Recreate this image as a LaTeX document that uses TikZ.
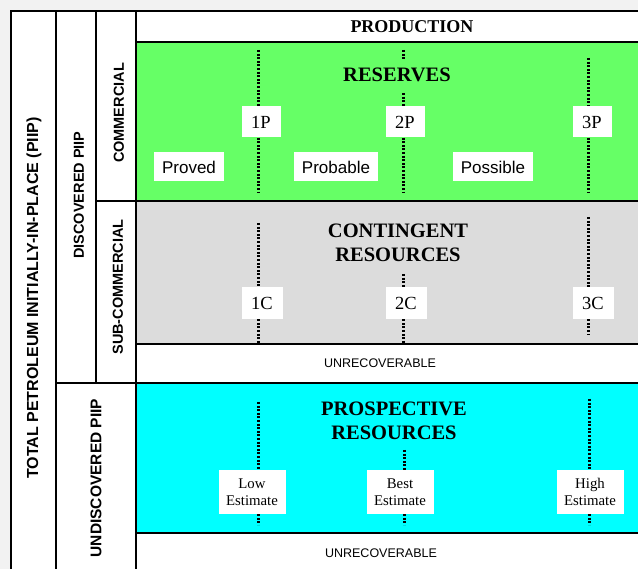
\documentclass[tikz,border=0pt]{standalone}
\usepackage{fontspec}
\setmainfont{Liberation Serif}
\newfontfamily\arialfont{Liberation Sans}
\usetikzlibrary{positioning}
\definecolor{resgreen}{HTML}{66FF66}
\definecolor{contgray}{HTML}{DCDCDC}
\definecolor{prospcyan}{HTML}{00FFFF}

\begin{document}
\begin{tikzpicture}[
  x=1pt, y=-1pt, line join=miter,
  frame/.style   ={black, line width=2.4pt},
  sidetxt/.style ={rotate=90, inner sep=0pt, font=\arialfont\bfseries\fontsize{14.5}{16}\selectfont},
  classtxt/.style={align=center, inner sep=0pt, font=\bfseries\fontsize{20.5}{24}\selectfont},
  catbox/.style  ={fill=white, inner sep=0pt, minimum width=39pt, minimum height=31pt, font=\fontsize{18.5}{20}\selectfont},
  estbox/.style  ={fill=white, inner sep=0pt, align=center, minimum width=67pt, minimum height=44pt, font=\fontsize{14.8}{17}\selectfont},
  uncbox/.style  ={fill=white, inner xsep=8pt, inner ysep=0pt, minimum height=29pt, font=\arialfont\fontsize{17}{20}\selectfont},
  unrectxt/.style={inner sep=0pt, font=\arialfont\fontsize{12.5}{14}\selectfont},
  dotline/.style ={black, line width=3pt, line cap=butt, dash pattern=on 2pt off 1.6pt}
]

% --- grid (pixel units, y downwards)
\def\xL{11}   % outer frame
\def\xA{56}   % total | discovered
\def\xB{96}   % discovered | commercial
\def\xC{136}  % start of resource area
\def\xR{638}  % right edge (cut)
\def\yT{11}   % top frame
\def\yP{42}   % production | reserves
\def\yR{201}  % reserves | contingent
\def\yU{344}  % contingent | unrecoverable
\def\yD{383}  % discovered | undiscovered
\def\yQ{533}  % prospective | unrecoverable
\def\yB{575}  % bottom (cut)

\useasboundingbox (0,0) rectangle (638,569);

% --- background with shadow margin
\fill[black!5] (0,0) rectangle (638,569);
\fill[white] (\xL,\yT) rectangle (\xR,\yB);

% --- coloured bands
\fill[resgreen]  (\xC,\yP) rectangle (\xR,\yR);
\fill[contgray]  (\xC,\yR) rectangle (\xR,\yU);
\fill[prospcyan] (\xC,\yD) rectangle (\xR,\yQ);

% --- frame lines
\draw[frame] (\xR,\yT) -- (\xL,\yT) -- (\xL,\yB);
\draw[frame] (\xA,\yT) -- (\xA,\yB);
\draw[frame] (\xB,\yT) -- (\xB,\yD);
\draw[frame] (\xC,\yT) -- (\xC,\yB);
\draw[frame] (\xC,\yP) -- (\xR,\yP);
\draw[frame] (\xB,\yR) -- (\xR,\yR);
\draw[frame] (\xC,\yU) -- (\xR,\yU);
\draw[frame] (\xA,\yD) -- (\xR,\yD);
\draw[frame] (\xC,\yQ) -- (\xR,\yQ);

% --- side labels
\node[sidetxt, font=\arialfont\bfseries\fontsize{16}{18}\selectfont] (total) at (34,298) {TOTAL PETROLEUM INITIALLY-IN-PLACE (PIIP)};
\node[sidetxt] (disc)   at (79,195)  {DISCOVERED PIIP};
\node[sidetxt] (comm)   at (119,113) {COMMERCIAL};
\node[sidetxt] (subc)   at (118,287) {SUB-COMMERCIAL};
\node[sidetxt, font=\arialfont\bfseries\fontsize{15.5}{17}\selectfont] (undisc) at (96,478) {UNDISCOVERED PIIP};

% --- class titles
\node[classtxt, font=\bfseries\fontsize{18}{20}\selectfont] (prod) at (412,27) {PRODUCTION};
\node[classtxt] (res)   at (397,75)  {RESERVES};
\node[classtxt] (cont)  at (398,243) {CONTINGENT\\RESOURCES};
\node[classtxt] (prosp) at (394,421) {PROSPECTIVE\\RESOURCES};
\node[unrectxt] (unrA)  at (380,363) {UNRECOVERABLE};
\node[unrectxt] (unrB)  at (381,553) {UNRECOVERABLE};

% --- reserves: 1P 2P 3P
\foreach \n/\xl/\xb/\yt in {1/258/261/50, 2/403/405/93, 3/588/592/58}{
  \node[catbox] (p\n) at (\xb,122) {\n P};
  \coordinate (ptop\n) at (\xl,\yt);
  \coordinate (pbot\n) at (\xl,192);
  \draw[dotline] (ptop\n) -- (ptop\n |- p\n.north);
  \draw[dotline] (ptop\n |- p\n.south) -- (pbot\n);
}
\coordinate (pstubA) at (403,50);
\coordinate (pstubB) at (403,59);
\draw[dotline] (pstubA) -- (pstubB);

\node[uncbox] (proved)   at (189,167) {Proved};
\node[uncbox] (probable) at (336,167) {Probable};
\node[uncbox] (possible) at (493,167) {Possible};

% --- contingent: 1C 2C 3C
\foreach \n/\xl/\xb/\yt/\yb in {1/258/262/223/343, 2/403/406/274/343, 3/588/593/217/335}{
  \node[catbox, minimum width=41pt, minimum height=32pt] (c\n) at (\xb,303) {\n C};
  \coordinate (ctop\n) at (\xl,\yt);
  \coordinate (cbot\n) at (\xl,\yb);
  \draw[dotline] (ctop\n) -- (ctop\n |- c\n.north);
  \draw[dotline] (ctop\n |- c\n.south) -- (cbot\n);
}

% --- prospective: low / best / high
\foreach \n/\xl/\xb/\yt/\lab in {1/258/252/402/Low, 2/404/400/450/Best, 3/589/590/399/High}{
  \node[estbox] (e\n) at (\xb,492) {\lab\\Estimate};
  \coordinate (etop\n) at (\xl,\yt);
  \coordinate (ebot\n) at (\xl,525);
  \draw[dotline] (etop\n) -- (etop\n |- e\n.north);
  \draw[dotline] (etop\n |- e\n.south) -- (ebot\n);
}

\end{tikzpicture}
\end{document}
